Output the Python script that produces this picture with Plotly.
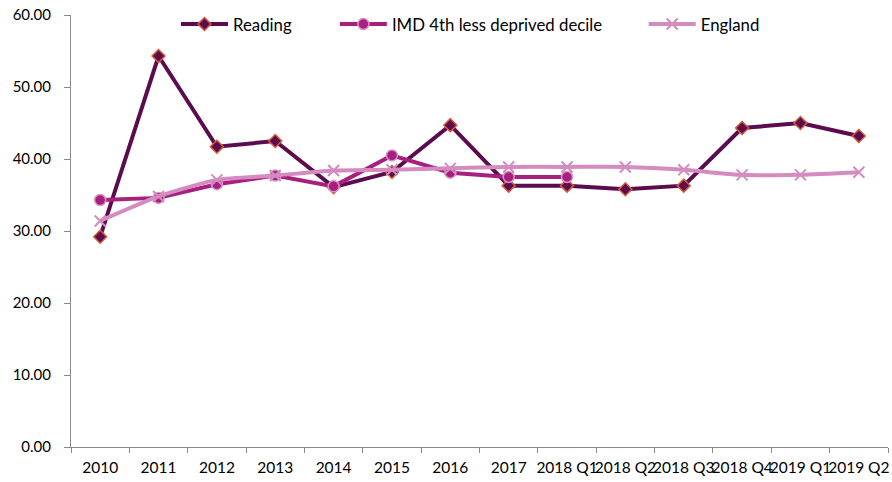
import plotly.graph_objects as go

# Data
periods = ['2010', '2011', '2012', '2013', '2014', '2015', '2016', '2017',
           '2018 Q1', '2018 Q2', '2018 Q3', '2018 Q4', '2019 Q1', '2019 Q2']
reading = [29.2, 54.3, 41.7, 42.5, 36.1, 38.2, 44.7, 36.3,
           36.3, 35.8, 36.3, 44.3, 45.0, 43.2]
imd_4th = [34.3, 34.6, 36.5, 37.7, 36.2, 40.5, 38.1, 37.5,
           37.5, None, None, None, None, None]
england = [31.4, 34.8, 37.1, 37.7, 38.4, 38.5, 38.7, 38.9,
           38.9, 38.9, 38.5, 37.8, 37.8, 38.15]

font = 'Lato'

fig = go.Figure(
    layout=go.Layout(
        template='plotly_white',
        width=892,
        height=482
        ))

fig.add_trace(go.Scatter(x=periods, y=reading, name='Reading', mode='lines+markers',
                         legend='legend',
                         line=dict(color='#5c0b4f', width=4),
                         marker=dict(symbol='diamond', size=10, color='#5c0b4f',
                                     line=dict(color='#d45a3a', width=1.5))))
fig.add_trace(go.Scatter(x=periods, y=imd_4th, name='IMD 4th less deprived decile',
                         mode='lines+markers', legend='legend2',
                         line=dict(color='#a8207f', width=4),
                         marker=dict(symbol='circle', size=11, color='#a8207f',
                                     line=dict(color='#d893c4', width=1.5))))
fig.add_trace(go.Scatter(x=periods, y=england, name='England', mode='lines+markers',
                         legend='legend3',
                         line=dict(color='#d48bc0', width=4, shape='spline', smoothing=0.6),
                         marker=dict(symbol='x-thin', size=11, color='#d48bc0',
                                     line=dict(color='#d48bc0', width=2))))

legend_style = dict(orientation='h', y=0.979, yanchor='middle', xanchor='left',
                    font=dict(family=font, size=16.8, color='#000000'),
                    bgcolor='rgba(0,0,0,0)', itemwidth=47)

fig.update_layout(
    margin=dict(l=71, r=4, t=15, b=35, autoexpand=False),
    font=dict(family=font, size=15, color='#000000'),
    plot_bgcolor='white',
    showlegend=True,
    legend=dict(x=0.1285, **legend_style),
    legend2=dict(x=0.323, **legend_style),
    legend3=dict(x=0.701, **legend_style),
    hovermode=False,
    xaxis=dict(type='category', showgrid=False, showline=True, linecolor='#888888',
               linewidth=1, ticks='outside', tickcolor='#888888', ticklen=5,
               tickangle=0, tickson='boundaries', range=[-0.5, 13.5],
               tickfont=dict(family=font, size=15.5), ticklabelstandoff=6,
               ticklabeloverflow='allow'),
    yaxis=dict(range=[0, 60], dtick=10, tickformat='.2f', showgrid=False,
               showline=True, linecolor='#888888', linewidth=1, ticks='outside',
               tickcolor='#888888', ticklen=6, zeroline=False,
               tickfont=dict(family=font, size=15), ticklabelstandoff=10,
               ticklabeloverflow='allow'),
)

# drop the default 8px page margin so the figure fills the window
fig.write_html('out.html', config={'displayModeBar': False},
               post_script="document.body.style.margin='0';")
